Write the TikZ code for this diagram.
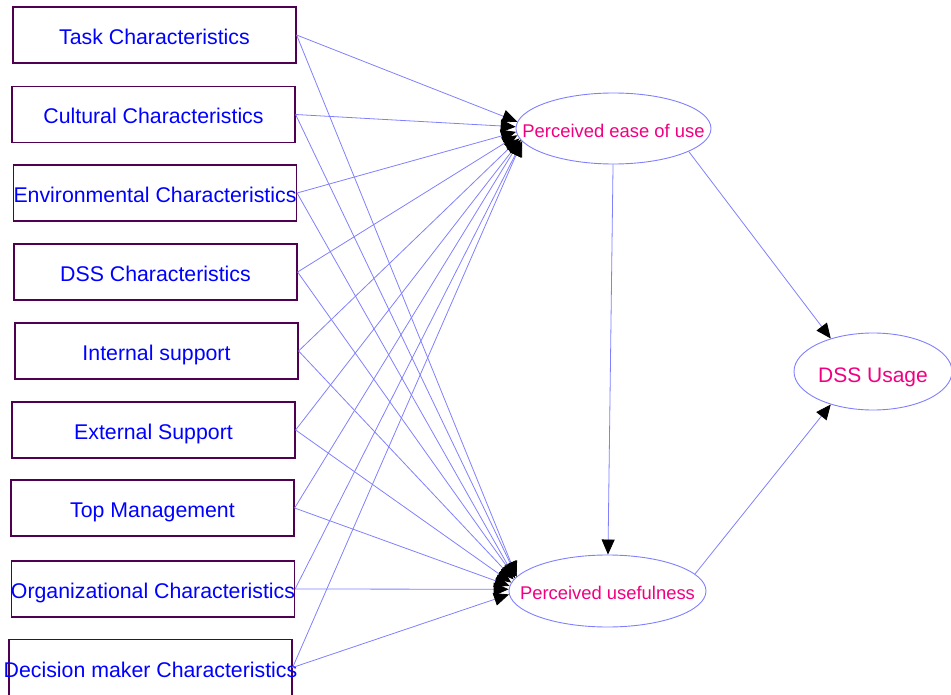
\documentclass[tikz,border=0pt]{standalone}
\usepackage{fontspec}
\setmainfont{Liberation Sans}
\usetikzlibrary{arrows.meta,shapes.geometric}

\definecolor{boxline}{RGB}{80,0,80}
\definecolor{boxtext}{RGB}{0,0,255}
\definecolor{ovaltext}{RGB}{240,0,128}
\definecolor{edgeblue}{RGB}{128,128,255}

\begin{document}
\begin{tikzpicture}[
            x=1pt, y=-1pt,
            factor/.style = {
                draw=boxline, line width=1.2pt,
                minimum width=283pt, minimum height=56pt, inner sep=0pt
            },
            factortext/.style = {
                text=boxtext, font=\fontsize{21.3}{24}\selectfont,
                text height=19pt, text depth=0pt, inner sep=0pt
            },
            construct/.style = {
                draw=edgeblue, ellipse, line width=0.9pt, inner sep=0pt
            },
            constructtext/.style = {
                text=ovaltext, font=\fontsize{18.4}{22}\selectfont,
                text height=17.6pt, text depth=0pt, inner sep=0pt
            },
            edge/.style = {
                draw=edgeblue, line width=0.8pt,
                -{Triangle[length=15pt,width=13pt,color=black]}
            }
            ]
            \useasboundingbox (0,0) rectangle (951,695);

            % Factors
            \node[factor, label={[factortext]center:Task Characteristics}]            (task)   at (154.5, 35.0) {};
            \node[factor, label={[factortext]center:Cultural Characteristics}]        (cult)   at (153.5,114.5) {};
            \node[factor, label={[factortext]center:Environmental Characteristics}]   (env)    at (155.0,193.0) {};
            \node[factor, label={[factortext]center:DSS Characteristics}]             (dssc)   at (155.5,272.0) {};
            \node[factor, label={[factortext]center:Internal support}]                (intsup) at (156.5,351.0) {};
            \node[factor, label={[factortext]center:External Support}]                (extsup) at (153.5,430.0) {};
            \node[factor, label={[factortext]center:Top Management}]                  (topman) at (152.5,508.0) {};
            \node[factor, label={[factortext]center:Organizational Characteristics}]  (org)    at (153.0,589.0) {};
            \node[factor, label={[factortext]center:Decision maker Characteristics}]  (dm)     at (150.5,667.5) {};

            % Constructs
            \node[construct, minimum width=195pt, minimum height=71pt,
                  label={[constructtext]center:Perceived ease of use}] (peu) at (613.5,128.5) {};
            \node[construct, minimum width=197pt, minimum height=72pt,
                  label={[constructtext]center:Perceived usefulness}]  (pu)  at (607.5,591.0) {};
            \node[construct, minimum width=158pt, minimum height=77pt,
                  label={[constructtext, font=\fontsize{21}{24}\selectfont, text height=22.4pt]center:DSS Usage}] (usage) at (873.0,371.5) {};

            % Edges (heads spread along the left side of each ellipse)
            \draw[edge] (task.east)   -- (peu.176.9);  \draw[edge] (task.east)   -- (pu.171.0);
            \draw[edge] (cult.east)   -- (peu.179.5);  \draw[edge] (cult.east)   -- (pu.171.4);
            \draw[edge] (env.east)    -- (peu.182.2);  \draw[edge] (env.east)    -- (pu.172.0);
            \draw[edge] (dssc.east)   -- (peu.184.4);  \draw[edge] (dssc.east)   -- (pu.172.7);
            \draw[edge] (intsup.east) -- (peu.186.0);  \draw[edge] (intsup.east) -- (pu.173.7);
            \draw[edge] (extsup.east) -- (peu.187.0);  \draw[edge] (extsup.east) -- (pu.175.2);
            \draw[edge] (topman.east) -- (peu.187.8);  \draw[edge] (topman.east) -- (pu.177.2);
            \draw[edge] (org.east)    -- (peu.188.4);  \draw[edge] (org.east)    -- (pu.179.9);
            \draw[edge] (dm.east)     -- (peu.188.8);  \draw[edge] (dm.east)     -- (pu.182.6);

            \draw[edge] (peu) -- (pu);
            \draw[edge] (peu.-17) -- (usage.142);
            \draw[edge] (pu.11)   -- (usage.-142);
        \end{tikzpicture}
\end{document}
